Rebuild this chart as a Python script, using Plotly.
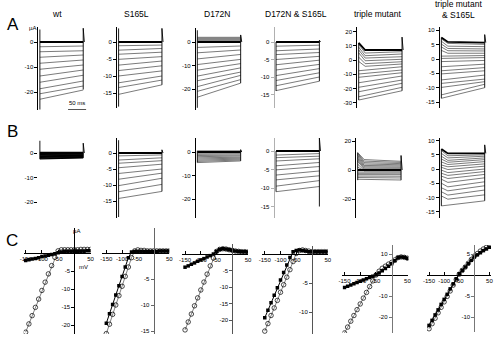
import plotly.graph_objects as go

W, H = 500, 339
FONT = "Liberation Sans, Arial, sans-serif"

# ---------------- DATA ----------------
T_PULSE = 120.0          # ms, duration of voltage step
SCALE_BAR_MS = 50        # ms

PANEL_TITLES = ["wt", "S165L", "D172N", "D172N & S165L", "triple mutant", "triple mutant<br>& S165L"]

# Row A: steady currents (µA) at step start / step end
A_WT_START = [0, -1.9, -3.9, -6.1, -8.5, -10.9, -13.6, -16.1, -18.7, -20.7, -22.9]
A_WT_END = [0, -1.6, -3.5, -5.2, -7.2, -9.2, -11.2, -13.3, -15.6, -17.6, -19.2]
A_S165L_START = [0, -1.1, -2.4, -3.6, -5.1, -6.8, -8.4, -10.0, -12.0, -13.4, -15.4]
A_S165L_END = [0, -0.9, -1.9, -3.0, -4.3, -5.6, -7.0, -8.5, -10.0, -11.2, -12.6]
A_D172N_START = [0, 0.4, 0.8, 1.2, 1.6, 2.0, -2.3, -4.6, -7.2, -9.6, -12.0, -14.5, -16.5, -19.0, -21.0, -23.5]
A_D172N_END = [0, 0.4, 0.8, 1.2, 1.6, 2.0, -1.7, -3.4, -5.3, -7.4, -9.2, -11.0, -12.8, -14.2, -16.0, -17.5]
A_DS_START = [0, -1.2, -2.5, -3.6, -5.0, -6.5, -8.0, -9.6, -11.0, -12.5, -13.9]
A_DS_END = [0, -0.9, -2.0, -3.0, -4.1, -5.2, -6.4, -7.6, -8.8, -10.0, -11.2]
A_TM_PEAK = [12, 11, 9, 7, 5, 2, -1, -7.5, -9.8, -12.1, -15.9, -19.1, -22.2, -25.7, -28.0]
A_TM_START = [7, 4.7, 2.8, 1.2, -0.7, -2.8, -4.7, -7.5, -9.8, -12.1, -15.9, -19.1, -22.2, -25.7, -28.0]
A_TM_END = [7, 5.8, 4.2, 2.3, 0.5, -1.2, -2.8, -4.7, -7.0, -8.9, -11.2, -14.0, -16.3, -19.1, -21.5]
A_TMS_PEAK = [7.5, 7.0, 6.2, 5.2, 4.2, 3.0, 1.0, 0.2, -0.9, -2.7, -4.1, -5.2, -7.3, -8.5, -9.9, -12.5, -13.7]
A_TMS_START = [6.0, 5.5, 4.5, 3.7, 2.9, 2.0, 1.0, 0.2, -0.9, -2.7, -4.1, -5.2, -7.3, -8.5, -9.9, -12.5, -13.7]
A_TMS_END = [5.7, 5.1, 4.3, 3.5, 2.8, 2.0, 1.2, 0.5, -0.5, -1.8, -3.0, -4.1, -5.6, -7.0, -7.9, -8.8, -10.0]

# Row B
B_WT_START = [0.0, 0.3, -0.3, -0.6, -0.9, -1.2, -1.5, -1.8, -2.1, -2.4]
B_WT_END = [0.0, 0.3, -0.3, -0.5, -0.8, -1.0, -1.3, -1.5, -1.8, -2.0]
B_S165L_START = [0, -0.9, -2.2, -3.2, -4.6, -6.4, -8.2, -10.2, -12.1, -14.2]
B_S165L_END = [0, -0.6, -1.5, -2.4, -3.5, -5.0, -6.3, -7.9, -9.8, -12.0]
B_D172N_START = [0, 0.5, -0.5, -1.0, -1.5, -2.0, -2.5, -3.0, -3.5, -4.0, -4.5]
B_D172N_END = [0, 0.5, -0.4, -0.8, -1.3, -1.7, -2.2, -2.6, -3.0, -3.4, -3.8]
B_DS_START = [0, -1.1, -1.8, -2.7, -4.0, -5.1, -6.5, -7.8, -9.5, -11.0]
B_DS_END = [0, -0.7, -1.4, -2.1, -3.1, -4.2, -5.4, -6.7, -8.0, -9.6]
B_TM_PEAK = [0.0, 12, 11.5, 11, 10, 9, 8, 7, 6, 4, 2, -1.4, -2.3, -3.2, -4.2, -5.2, -6.4]
B_TM_START = [0.0, 7.4, 6.3, 5.2, 4.2, 3.2, 2.3, 1.4, 0.6, -0.3, -0.6, -1.4, -2.3, -3.2, -4.2, -5.2, -6.4]
B_TM_END = [0.0, 6.0, 5.2, 4.4, 3.6, 2.8, 2.0, 1.3, 0.6, -0.3, -0.6, -1.4, -2.2, -3.2, -4.3, -5.5, -6.9]
B_TMS_PEAK = [7.0, 6.5, 5.5, 4.5, 3.5, 2.5, 1.4, 0.6, -0.4, -1.5, -2.5, -3.6, -5.0, -6.6, -8.0, -9.5, -13.0]
B_TMS_START = [5.5, 4.6, 3.8, 2.9, 2.2, 1.4, 0.6, -0.4, -1.5, -2.5, -3.6, -5.0, -6.6, -8.0, -9.5, -10.9, -13.0]
B_TMS_END = [5.5, 5.0, 4.5, 3.9, 3.3, 2.6, 1.8, 1.0, 0.0, -0.9, -1.9, -3.1, -4.5, -5.9, -7.4, -9.1, -11.2]

# Capacitive transients (lo, hi) at step onset and offset, µA
A_TRANS = [((-27, 5), (-19, 5.5)), ((-19, 4), (-12.6, 4)), ((-28, 5), (-17.5, 3)),
           ((-14, 0), (-11.2, 0.5)), ((-28, 12), (-21.5, 16)), ((-13.7, 7.5), (-10, 8.5))]
B_TRANS = [((-2.5, 5), (-2, 4)), ((-20, 4), (-12, 1)), ((-4.5, 0.5), (-3.8, 1)),
           ((-11, 0), (-15, 3.5)), ((-7, 12), (-7, 10)), ((-13, 7), (-11.2, 8.5))]

A_TICKS = [[0, -10, -20], [0, -5, -10, -15], [0, -10, -20], [0, -5, -10, -15],
           [20, 10, 0, -10, -20, -30], [10, 5, 0, -5, -10, -15]]
B_TICKS = [[0, -10, -20], [0, -5, -10, -15], [0, -10, -20], [0, -5, -10, -15],
           [20, 0, -20], [10, 5, 0, -5, -10, -15]]

# Row C: I-V relations (mV, µA)
V_MV = [-150, -140, -130, -120, -110, -100, -90, -80, -70, -60, -50,
        -40, -30, -20, -10, 0, 10, 20, 30, 40, 50]
C_OPEN = [
    [-22.0, -19.7, -17.4, -15.1, -12.8, -10.4, -8.1, -5.8, -3.5, -1.2, 0.6, 0.9, 0.9, 0.9, 0.9, 0.9, 0.9, 1.0, 1.0, 1.0, 1.0],
    [-15.5, -13.7, -11.8, -10.0, -8.2, -6.4, -4.5, -2.7, -0.9, 0.4, 0.6, 0.5, 0.5, 0.4, 0.4, 0.4, 0.4, 0.4, 0.4, 0.4, 0.4],
    [-23.0, -20.6, -18.2, -15.7, -13.3, -10.9, -8.5, -6.1, -3.6, -1.2, 0.8, 1.4, 1.6, 1.5, 1.3, 1.1, 0.9, 0.8, 0.7, 0.7, 0.6],
    [-13.3, -12.0, -10.6, -9.3, -8.0, -6.6, -5.3, -4.0, -2.7, -1.3, 0.1, 0.6, 0.7, 0.6, 0.5, 0.4, 0.4, 0.4, 0.4, 0.4, 0.4],
    [-27.6, -24.8, -22.0, -19.3, -16.5, -13.8, -11.0, -8.3, -5.5, -2.8, 0.0, 1.8, 3.2, 4.2, 5.2, 6.0, 7.2, 8.3, 8.6, 8.4, 8.0],
    [-12.8, -11.6, -10.3, -9.0, -7.7, -6.4, -5.1, -3.8, -2.4, -1.1, 0.2, 1.1, 1.9, 2.8, 3.7, 4.5, 5.1, 5.7, 6.2, 6.6, 7.0],
]
C_FILLED = [
    [-2.1, -1.9, -1.7, -1.5, -1.3, -1.0, -0.8, -0.6, -0.4, -0.2, 0.1, 0.3, 0.4, 0.4, 0.4, 0.5, 0.5, 0.5, 0.5, 0.6, 0.6],
    [-13.5, -11.7, -9.9, -8.1, -6.3, -4.5, -2.7, -0.9, 0.2, 0.3, 0.3, 0.3, 0.3, 0.3, 0.3, 0.3, 0.3, 0.4, 0.4, 0.4, 0.4],
    [-4.0, -3.6, -3.1, -2.7, -2.2, -1.8, -1.4, -0.9, -0.5, 0.0, 0.8, 1.4, 1.6, 1.5, 1.3, 1.1, 0.9, 0.8, 0.7, 0.7, 0.6],
    [-11.0, -9.7, -8.4, -7.1, -5.8, -4.5, -3.2, -1.9, -0.6, 0.4, 0.6, 0.7, 0.6, 0.5, 0.4, 0.4, 0.4, 0.4, 0.4, 0.4, 0.4],
    [-6.0, -5.4, -4.8, -4.2, -3.6, -3.0, -2.4, -1.8, -1.2, -0.6, 0.1, 1.0, 2.0, 3.1, 4.2, 5.3, 6.8, 8.2, 8.6, 8.4, 8.0],
    [-12.0, -10.8, -9.5, -8.3, -7.0, -5.8, -4.6, -3.3, -2.1, -0.9, 0.3, 1.1, 1.9, 2.7, 3.5, 4.3, 4.8, 5.3, 5.8, 6.2, 6.6],
]
C_XTICKS = [-150, -100, -50, 50]
C_YTICKS = [[-5, -10, -15, -20], [-5, -10, -15], [-5, -10, -15, -20], [-5, -10],
            [10, -10, -20], [5, -5, -10]]

# ---------------- LAYOUT GEOMETRY (pixels) ----------------
PX_PER_MS = 0.367
TRACE_PANEL_W = 52
A_AXIS_X = [35, 115, 195, 275, 359, 443]
B_AXIS_X = [35, 115, 195, 275, 358, 443]
# (top_px, bottom_px, zero_px, px_per_uA)
A_GEOM = [(27, 110, 42, 2.5), (27, 108, 42, 3.4), (28, 110, 42, 2.35),
          (27, 108, 42, 3.5), (27, 108, 60, 1.43), (27, 108, 59, 2.87)]
B_GEOM = [(138, 218, 153, 2.45), (138, 218, 153, 3.2), (138, 218, 152, 2.35),
          (138, 218, 151, 3.7), (138, 218, 170, 1.45), (138, 218, 169, 2.84)]
AXIS_COLORS = ["black", "black", "black", "#b0b0b0", "black", "black"]
B_WT_COLOR = "black"

C_XDOM = [(20, 88), (100, 168), (181, 248), (262, 329), (344, 411), (430, 495)]
C_ZERO_X = [71.5, 152, 232, 313, 394, 478]
C_PX_PER_MV = [0.33, 0.32, 0.32, 0.32, 0.32, 0.307]
C_YDOM = [(228, 334), (228, 334), (244, 334), (246, 334), (245, 333), (245, 332)]
C_ZERO_Y = [253, 253, 254, 254, 275, 275]
C_PX_PER_UA = [3.6, 5.2, 3.3, 5.8, 2.1, 4.2]
C_YLINE = ["black", "#666", "#555", "#555", "#777", "#777"]

fig = go.Figure()
layout = {}
counter = [0]


def px(xp):
    return xp / W


def py(yp):
    return 1 - yp / H


def new_axes():
    counter[0] += 1
    n = counter[0]
    s = "" if n == 1 else str(n)
    return n, "x" + s, "y" + s, "xaxis" + s, "yaxis" + s


def fmt(v):
    return ("-" if v < 0 else "") + str(abs(v))


def text_ann(x, y, text, size, xref="paper", yref="paper"):
    return dict(x=x, y=y, xref=xref, yref=yref, text=text, showarrow=False,
                xanchor="center", yanchor="middle",
                font=dict(size=size, family=FONT, color="black"))


def trace_panel(ax_px, geom, starts, ends, peaks, ticks, trans, axis_color, show_line=True,
                line_color="#222", line_w=0.6):
    top, bot, zero, k = geom
    n, xa, ya, xk, yk = new_axes()
    xr = [-4, -4 + TRACE_PANEL_W / PX_PER_MS]
    yr = [-(bot - zero) / k, (zero - top) / k]
    layout[xk] = dict(domain=[px(ax_px), px(ax_px + TRACE_PANEL_W)], range=xr, visible=False,
                      anchor=ya)
    layout[yk] = dict(domain=[py(bot), py(top)], range=yr, anchor=xa,
                      showline=show_line, linecolor=axis_color, linewidth=1,
                      ticks="outside", ticklen=3, tickwidth=1,
                      tickcolor=axis_color if show_line else "black",
                      tickvals=ticks, ticktext=[fmt(t) for t in ticks],
                      tickfont=dict(size=6, family=FONT, color="black"),
                      showgrid=False, zeroline=False)
    xs, ys = [], []
    t_settle = 18.0
    for i in range(1, len(starts)):
        s, e = starts[i], ends[i]
        if peaks is not None and peaks[i] != s:
            xs += [0, t_settle, T_PULSE, None]
            ys += [peaks[i], s + (e - s) * t_settle / T_PULSE, e, None]
        else:
            xs += [0, T_PULSE, None]
            ys += [s, e, None]
    fig.add_trace(go.Scatter(x=xs, y=ys, mode="lines", line=dict(color=line_color, width=line_w),
                             xaxis=xa, yaxis=ya, hoverinfo="skip", showlegend=False))
    s0, e0 = starts[0], ends[0]
    if peaks is not None and peaks[0] != s0:
        hx = [0, t_settle, T_PULSE]
        hy = [peaks[0], s0 + (e0 - s0) * t_settle / T_PULSE, e0]
    else:
        hx, hy = [0, T_PULSE], [s0, e0]
    fig.add_trace(go.Scatter(x=hx, y=hy, mode="lines", line=dict(color="black", width=1.8),
                             xaxis=xa, yaxis=ya, hoverinfo="skip", showlegend=False))
    (lo0, hi0), (lo1, hi1) = trans
    fig.add_trace(go.Scatter(x=[0, 0, None, T_PULSE, T_PULSE, T_PULSE + 3],
                             y=[lo0, hi0, None, lo1, hi1, e0],
                             mode="lines", line=dict(color="black", width=0.9),
                             xaxis=xa, yaxis=ya, hoverinfo="skip", showlegend=False))
    return xa, ya


A_DATA = [(A_WT_START, A_WT_END, None), (A_S165L_START, A_S165L_END, None),
          (A_D172N_START, A_D172N_END, None), (A_DS_START, A_DS_END, None),
          (A_TM_START, A_TM_END, A_TM_PEAK), (A_TMS_START, A_TMS_END, A_TMS_PEAK)]
B_DATA = [(B_WT_START, B_WT_END, None), (B_S165L_START, B_S165L_END, None),
          (B_D172N_START, B_D172N_END, None), (B_DS_START, B_DS_END, None),
          (B_TM_START, B_TM_END, B_TM_PEAK), (B_TMS_START, B_TMS_END, B_TMS_PEAK)]

wt_axes = None
for i in range(6):
    s, e, p = A_DATA[i]
    ax = trace_panel(A_AXIS_X[i], A_GEOM[i], s, e, p, A_TICKS[i], A_TRANS[i], AXIS_COLORS[i])
    if i == 0:
        wt_axes = ax
for i in range(6):
    s, e, p = B_DATA[i]
    if i == 0:
        trace_panel(B_AXIS_X[i], B_GEOM[i], s, e, p, B_TICKS[i], B_TRANS[i], AXIS_COLORS[i],
                    show_line=False, line_color=B_WT_COLOR, line_w=1.2)
    elif i == 2:
        trace_panel(B_AXIS_X[i], B_GEOM[i], s, e, p, B_TICKS[i], B_TRANS[i], AXIS_COLORS[i],
                    line_color="#555", line_w=0.8)
    else:
        trace_panel(B_AXIS_X[i], B_GEOM[i], s, e, p, B_TICKS[i], B_TRANS[i], AXIS_COLORS[i])

# scale bar in A/wt
xa, ya = wt_axes
bar_t0 = 78
fig.add_trace(go.Scatter(x=[bar_t0, bar_t0 + SCALE_BAR_MS], y=[-27, -27], mode="lines",
                         line=dict(color="#555", width=1), xaxis=xa, yaxis=ya,
                         hoverinfo="skip", showlegend=False))
annotations = [text_ann(bar_t0 + SCALE_BAR_MS / 2, -24.3, "50 ms", 6, xref=xa, yref=ya)]

# Row C
for i in range(6):
    n, xa, ya, xk, yk = new_axes()
    x0p, x1p = C_XDOM[i]
    kx = C_PX_PER_MV[i]
    xr = [(x0p - C_ZERO_X[i]) / kx, (x1p - C_ZERO_X[i]) / kx]
    t_px, b_px = C_YDOM[i]
    ky = C_PX_PER_UA[i]
    yr = [-(b_px - C_ZERO_Y[i]) / ky, (C_ZERO_Y[i] - t_px) / ky]
    ydom = [py(b_px), py(t_px)]
    xdom = [px(x0p), px(x1p)]
    xpos = ydom[0] + (0 - yr[0]) / (yr[1] - yr[0]) * (ydom[1] - ydom[0])
    ypos = xdom[0] + (0 - xr[0]) / (xr[1] - xr[0]) * (xdom[1] - xdom[0])
    layout[xk] = dict(domain=xdom, range=xr, anchor="free", position=xpos,
                      showline=True, linecolor="black", linewidth=1,
                      ticks="inside", ticklen=3, tickcolor="black",
                      tickvals=C_XTICKS, ticktext=[fmt(t) for t in C_XTICKS],
                      tickfont=dict(size=6, family=FONT, color="black"),
                      showgrid=False, zeroline=False)
    layout[yk] = dict(domain=ydom, range=yr, anchor="free", position=ypos,
                      showline=True, linecolor=C_YLINE[i], linewidth=1,
                      ticks="outside", ticklen=3, tickcolor=C_YLINE[i],
                      tickvals=C_YTICKS[i], ticktext=[fmt(t) for t in C_YTICKS[i]],
                      tickfont=dict(size=6, family=FONT, color="black"),
                      showgrid=False, zeroline=False)
    fig.add_trace(go.Scatter(x=V_MV, y=C_OPEN[i], mode="lines+markers",
                             line=dict(color="black", width=0.5),
                             marker=dict(symbol="circle-open", size=4.5, color="black",
                                         line=dict(width=0.7, color="black")),
                             xaxis=xa, yaxis=ya, hoverinfo="skip", showlegend=False))
    fig.add_trace(go.Scatter(x=V_MV, y=C_FILLED[i], mode="lines+markers",
                             line=dict(color="black", width=1),
                             marker=dict(symbol="square", size=3.5, color="black"),
                             xaxis=xa, yaxis=ya, hoverinfo="skip", showlegend=False))
    if i == 0:
        annotations.append(text_ann(px(C_ZERO_X[0] + 2), py(231), "µA", 6))
        annotations.append(text_ann(px(81), py(267), "mV", 6))

# Titles
TITLE_X = [54, 135, 216, 297, 380, 462]
TITLE_Y = [14, 14, 14, 14, 14, 10]
for i, t in enumerate(PANEL_TITLES):
    annotations.append(text_ann(px(TITLE_X[i]), py(TITLE_Y[i]), t, 8.5))
for letter, (lx, ly) in zip(["A", "B", "C"], [(9, 24), (9, 132), (8, 240)]):
    annotations.append(text_ann(px(lx), py(ly), letter, 17))
annotations.append(text_ann(px(29), py(28), "µA", 6))

fig.update_layout(width=W, height=H, margin=dict(l=0, r=0, t=0, b=0),
                  paper_bgcolor="white", plot_bgcolor="rgba(0,0,0,0)",
                  annotations=annotations, showlegend=False, **layout)
fig.write_html("out.html")
